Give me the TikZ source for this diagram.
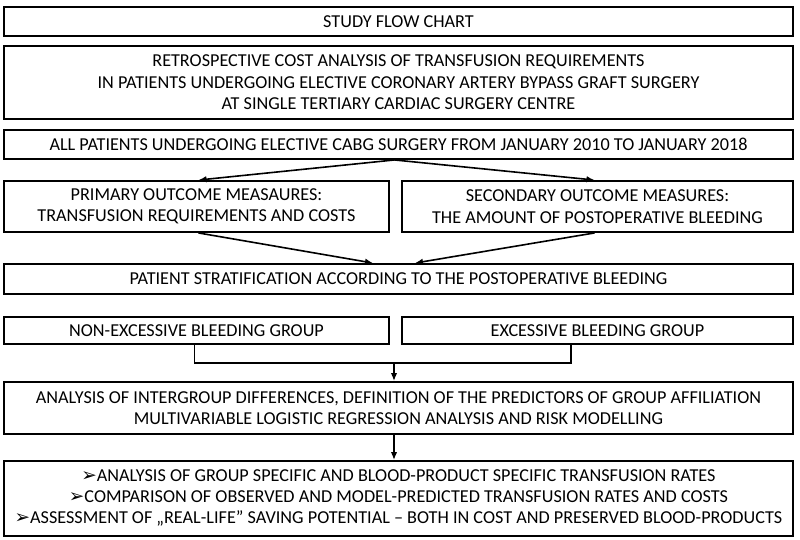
\documentclass[tikz,border=0pt]{standalone}
\usepackage{fontspec}
\setmainfont{Carlito}
\newfontfamily\dejavu{DejaVu Sans}
\usetikzlibrary{arrows.meta,calc}
\tikzset{
  box/.style={draw=black, line width=1.9pt, inner sep=0pt, align=center,
    font=\fontsize{18.2}{21.5}\selectfont, text=black},
  wide/.style={box, minimum width=789pt},
  conn/.style={line width=1.6pt},
  arr/.style={line width=1.6pt, -{Latex[length=8pt,width=6.5pt]}}
}
\newcommand{\bul}{{\dejavu\fontsize{18.5}{18.5}\selectfont ➢}}
\begin{document}
\begin{tikzpicture}[x=1pt,y=-1pt]
\useasboundingbox (0,0) rectangle (800,540);
\node[wide, minimum height=29pt] (b1) at (398.5,21.5) {STUDY FLOW CHART};
\node[wide, minimum height=73pt] (b2) at (398.5,82.5) {RETROSPECTIVE COST ANALYSIS OF TRANSFUSION REQUIREMENTS\\IN PATIENTS UNDERGOING ELECTIVE CORONARY ARTERY BYPASS GRAFT SURGERY\\AT SINGLE TERTIARY CARDIAC SURGERY CENTRE};
\node[wide, minimum height=29pt] (b3) at (398.5,144.5) {ALL PATIENTS UNDERGOING ELECTIVE CABG SURGERY FROM JANUARY 2010 TO JANUARY 2018};
\node[box, minimum width=385pt, minimum height=51pt] (b4l) at (196.5,206.5) {PRIMARY OUTCOME MEASAURES:\\TRANSFUSION REQUIREMENTS AND COSTS};
\node[box, minimum width=391pt, minimum height=51pt] (b4r) at (597.5,206.5) {SECONDARY OUTCOME MEASURES:\\THE AMOUNT OF POSTOPERATIVE BLEEDING};
\node[wide, minimum height=30pt] (b5) at (398.5,279) {PATIENT STRATIFICATION ACCORDING TO THE POSTOPERATIVE BLEEDING};
\node[box, minimum width=385pt, minimum height=27pt] (b6l) at (196.5,330.5) {NON-EXCESSIVE BLEEDING GROUP};
\node[box, minimum width=391pt, minimum height=27pt] (b6r) at (597.5,330.5) {EXCESSIVE BLEEDING GROUP};
\node[wide, minimum height=52pt] (b7) at (398.5,408) {ANALYSIS OF INTERGROUP DIFFERENCES, DEFINITION OF THE PREDICTORS OF GROUP AFFILIATION\\MULTIVARIABLE LOGISTIC REGRESSION ANALYSIS AND RISK MODELLING};
\node[wide, minimum height=75pt] (b8) at (398.5,498.5) {\raisebox{-3pt}{\begin{tabular}{@{}c@{}}\bul ANALYSIS OF GROUP SPECIFIC AND BLOOD-PRODUCT SPECIFIC TRANSFUSION RATES\\[-0.5pt]\bul COMPARISON OF OBSERVED AND MODEL-PREDICTED TRANSFUSION RATES AND COSTS\\[-0.5pt]\bul ASSESSMENT OF „REAL-LIFE” SAVING POTENTIAL – BOTH IN COST AND PRESERVED BLOOD-PRODUCTS\end{tabular}}};
% connectors
\coordinate (s3) at ([xshift=-4pt]b3.south);
\draw[arr] (s3) -- ([xshift=2pt]b4l.north);
\draw[arr] (s3) -- ([xshift=-3pt]b4r.north);
\draw[arr] ([xshift=2pt]b4l.south) -- ([xshift=-25.5pt]b5.north);
\draw[arr] ([xshift=-3pt]b4r.south) -- ([xshift=16.5pt]b5.north);
\coordinate (j) at (394,363);
\draw[conn] ([xshift=-2pt]b6l.south) |- (j) -| ([xshift=-26.5pt]b6r.south);
\draw[arr] (j) -- (j |- b7.north);
\draw[arr] ([xshift=-4.5pt]b7.south) -- ([xshift=-4.5pt]b8.north);
\end{tikzpicture}
\end{document}
